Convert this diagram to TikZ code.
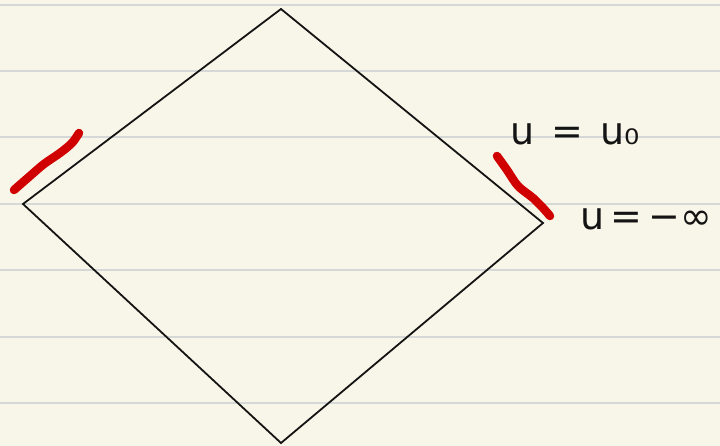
\documentclass[tikz,border=0pt]{standalone}
\usepackage{fontspec}
\usetikzlibrary{calc}
\newfontfamily\handfont{DejaVu Sans}
\definecolor{paper}{RGB}{248,246,233}
\definecolor{rule}{RGB}{214,216,216}
\definecolor{marker}{RGB}{208,0,0}
\definecolor{ink}{RGB}{20,20,20}
\tikzset{
  ruling/.style={draw=rule,line width=1.6pt},
  edge/.style={draw=ink,line width=1.8pt,line join=miter},
  highlight/.style={draw=marker,line width=8.5pt,line cap=round,line join=round},
  note/.style={font=\handfont\fontsize{38}{42}\selectfont,text=ink,inner sep=0pt,anchor=base west},
}
\begin{document}
\begin{tikzpicture}[x=1pt,y=-1pt]
        \useasboundingbox (0,0) rectangle (720,446);
        \fill[paper] (0,0) rectangle (720,446);
        % ruled paper
        \foreach \y in {5,71,137,204,270,337,403}
          \draw[ruling] (0,\y) -- (720,\y);
        % diamond
        \coordinate (top) at (281,9);
        \coordinate (left) at (23,204);
        \coordinate (right) at (543,223);
        \coordinate (bottom) at (281,443);
        \draw[edge] (top) -- (right) -- (bottom) -- (left) -- cycle;
        % red marks
        \draw[highlight] plot[smooth] coordinates {(14,190) (30,176) (44,164) (60,153) (72,143) (79,133)};
        \draw[highlight] plot[smooth] coordinates {(497,156) (507,170) (518,186) (533,198) (543,208) (550,216)};
        % labels
        \node[note] (uzero) at (510,145) {u\hspace{0.45em}=\hspace{0.45em}u₀};
        \node[note] (uinf) at (580,230) {u\,=\,−∞};
      \end{tikzpicture}
\end{document}
